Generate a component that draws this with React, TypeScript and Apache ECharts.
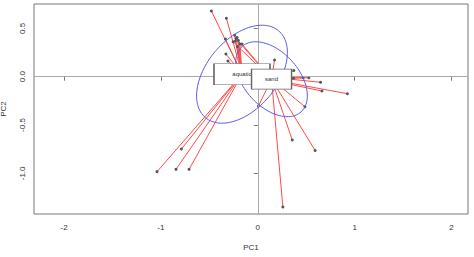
import React, { useEffect, useRef } from "react";
import * as echarts from "echarts";

// Group labels and their centroids
const groups = ["aquatic", "sand"];
const centroidX = [-0.163, 0.142];
const centroidY = [0.026, -0.026];

// Site scores per group
const aquaticX = [-0.479, -0.324, -0.334, -0.329, -0.308, -0.238, -0.213, -0.2, -0.231, -0.184, -0.21, -1.04, -0.789, -0.844, -0.709, 0.469, 0.648, 0.662, 0.925];
const aquaticY = [0.679, 0.604, 0.39, 0.235, 0.162, 0.428, 0.405, 0.374, 0.369, 0.338, 0.312, -0.982, -0.748, -0.958, -0.958, -0.01, -0.058, -0.148, -0.176];
const sandX = [-0.254, -0.225, -0.163, 0.173, 0.372, 0.369, 0.527, 0.486, 0.007, 0.356, 0.592, 0.259];
const sandY = [0.362, 0.395, 0.338, 0.173, 0.064, -0.013, -0.01, -0.31, -0.303, -0.655, -0.763, -1.347];

// Ellipse parameters per group (semi-axes and rotation in degrees)
const ellipseA = [0.587, 0.455];
const ellipseB = [0.363, 0.282];
const ellipseAngle = [50, -48];

// Axis ticks
const xTicks = [-2, -1, 0, 1, 2];
const yTicks = [-1, -0.5, 0, 0.5];

const pointsX = [aquaticX, sandX];
const pointsY = [aquaticY, sandY];
const boxSizes = [
  [56, 21],
  [40, 20],
];

function ellipsePoints(g: number): number[][] {
  const out: number[][] = [];
  const th = (ellipseAngle[g] * Math.PI) / 180;
  for (let k = 0; k <= 120; k++) {
    const t = (k / 120) * Math.PI * 2;
    const x = centroidX[g] + ellipseA[g] * Math.cos(t) * Math.cos(th) - ellipseB[g] * Math.sin(t) * Math.sin(th);
    const y = centroidY[g] + ellipseA[g] * Math.cos(t) * Math.sin(th) + ellipseB[g] * Math.sin(t) * Math.cos(th);
    out.push([x, y]);
  }
  return out;
}

export default function App() {
  const ref = useRef<HTMLDivElement>(null);
  useEffect(() => {
    if (!ref.current) return;
    const chart = echarts.init(ref.current, undefined, { renderer: "svg" });
    const font = "Liberation Sans, Arial, sans-serif";

    const spiderData: any[] = [];
    const scatterData: number[][] = [];
    groups.forEach((_, g) => {
      pointsX[g].forEach((x, i) => {
        spiderData.push({ coords: [[centroidX[g], centroidY[g]], [x, pointsY[g][i]]] });
        scatterData.push([x, pointsY[g][i]]);
      });
    });

    const series: any[] = [
      {
        type: "line",
        data: [],
        silent: true,
        markLine: {
          silent: true,
          symbol: "none",
          label: { show: false },
          lineStyle: { color: "#aaaaaa", width: 1, type: "solid" },
          data: [{ xAxis: 0 }, { yAxis: 0 }],
        },
      },
      {
        type: "lines",
        coordinateSystem: "cartesian2d",
        silent: true,
        lineStyle: { color: "#ff4a4a", width: 1, opacity: 1 },
        data: spiderData,
        z: 3,
      },
      {
        type: "scatter",
        silent: true,
        symbol: "circle",
        symbolSize: 3,
        itemStyle: { color: "#555555", opacity: 1 },
        data: scatterData,
        z: 4,
      },
    ];
    groups.forEach((_, g) => {
      series.push({
        type: "line",
        silent: true,
        showSymbol: false,
        smooth: false,
        lineStyle: { color: "#5a5af0", width: 1 },
        data: ellipsePoints(g),
        z: 5,
      });
    });
    groups.forEach((name, g) => {
      series.push({
        type: "scatter",
        silent: true,
        symbol: "rect",
        symbolSize: boxSizes[g],
        itemStyle: { color: "#ffffff", borderColor: "#666666", borderWidth: 1, opacity: 1 },
        label: {
          show: true,
          position: "inside",
          formatter: name,
          color: "#333333",
          fontSize: 6,
          fontFamily: font,
        },
        data: [{ name, value: [centroidX[g], centroidY[g]] }],
        z: 10 + g,
      });
    });

    chart.setOption({
      animation: false,
      grid: {
        left: 34,
        right: 6,
        top: 4,
        bottom: 43,
        outerBoundsMode: "none",
        containLabel: false,
        show: true,
        borderColor: "#777777",
        borderWidth: 1,
        backgroundColor: "#ffffff",
      },
      xAxis: {
        type: "value",
        min: -2.31,
        max: 2.17,
        name: "PC1",
        nameLocation: "middle",
        nameGap: 29,
        nameTextStyle: { color: "#333333", fontSize: 8, fontFamily: font },
        axisLine: { show: false },
        splitLine: { show: false },
        axisTick: { show: true, inside: false, length: 4, customValues: xTicks, lineStyle: { color: "#777777" } },
        axisLabel: {
          customValues: xTicks,
          color: "#333333",
          fontSize: 8,
          fontFamily: font,
          margin: 9,
          formatter: (v: number) => String(v),
        },
      },
      yAxis: {
        type: "value",
        min: -1.42,
        max: 0.752,
        name: "PC2",
        nameLocation: "middle",
        nameGap: 27,
        nameTextStyle: { color: "#333333", fontSize: 8, fontFamily: font },
        axisLine: { show: false },
        splitLine: { show: false },
        axisTick: { show: true, inside: false, length: 4, customValues: yTicks, lineStyle: { color: "#777777" } },
        axisLabel: {
          customValues: yTicks,
          rotate: 90,
          color: "#333333",
          fontSize: 8,
          fontFamily: font,
          margin: 8,
          formatter: (v: number) => v.toFixed(1),
        },
      },
      series,
    });
    return () => chart.dispose();
  }, []);
  return (
    <div
      ref={ref}
      style={{ position: "fixed", left: 0, top: 0, width: 474, height: 257, background: "#ffffff" }}
    />
  );
}
